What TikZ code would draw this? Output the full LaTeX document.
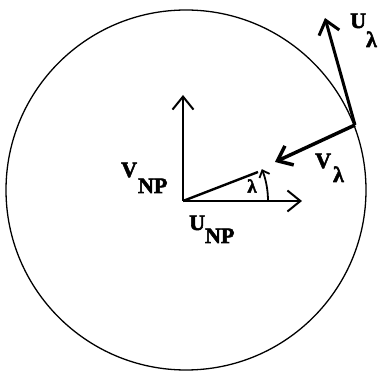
\documentclass[tikz,border=0pt]{standalone}
\usepackage{fontspec}
\setmainfont{Liberation Serif}[BoldFeatures={FakeBold=2.5}]
\usetikzlibrary{arrows.meta}
\begin{document}
\begin{tikzpicture}[x=1pt,y=1pt,
  lbl/.style={font=\fontsize{22}{24}\selectfont\bfseries, inner sep=0pt, anchor=base west},
  barb/.style={-{Straight Barb[length=13pt,width=21pt]}}]
\useasboundingbox (0,0) rectangle (383,372);
\draw[line width=1.3pt] (186,182) circle[radius=180];
\coordinate (O) at (183,171);
\coordinate (P) at (355,247);
\coordinate (Vtip) at (183,277);
\coordinate (Htip) at (302,171);
\coordinate (L) at (258,200);
\coordinate (A0) at (268,171);
\coordinate (Vl) at (275,210);
\coordinate (Ul) at (325,354);
\draw[line width=2pt, barb] (O) -- (Vtip);
\draw[line width=2pt, barb] (O) -- (Htip);
\draw[line width=2.4pt] (O) -- (L);
\draw[line width=1.8pt, -{Straight Barb[length=6pt,width=11pt]}] (A0) arc[start angle=0,end angle=22,radius=85];
\draw[line width=3.5pt, barb] (P) -- (Vl);
\draw[line width=3pt, barb] (P) -- (Ul);
\node[lbl] (vnp) at (121,195) {V\raisebox{-16pt}{\kern1pt NP}};
\node[lbl] (unp) at (189,142) {U\raisebox{-13pt}{NP}};
\node[lbl, font=\fontsize{19}{20}\selectfont\bfseries, anchor=center] (lam) at (252,186) {λ};
\node[lbl] (vl) at (315,204) {V\raisebox{-14pt}{\kern2pt λ}};
\node[lbl] (ul) at (350,344) {U\raisebox{-19pt}{λ}};
\end{tikzpicture}
\end{document}
